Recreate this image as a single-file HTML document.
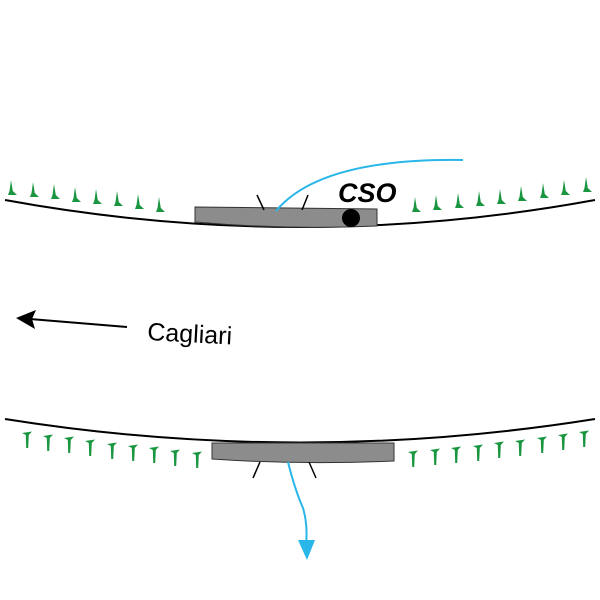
<!DOCTYPE html>
<html><head><meta charset="utf-8"><style>html,body{margin:0;padding:0;background:#fff}svg{display:block}</style></head>
<body>
<svg width="600" height="600" viewBox="0 0 600 600" xmlns="http://www.w3.org/2000/svg">
<defs>
<g id="sp"><path d="M0,0 L1.8,11 L6,15 L-3,15 L-1.5,11 Z" fill="#1a9641"/></g>
<g id="tt"><path d="M-5,0 L5,-1.5 L1.8,2 L1.2,15 L-0.8,15 L-1.2,2 Z" fill="#1a9641"/></g>
</defs>
<!-- top -->
<path d="M5,200 Q300,254 595,200" fill="none" stroke="#000" stroke-width="2"/>
<path d="M195,207 L377,209 L377,226 Q286,230 195,222 Z" fill="#8c8c8c" stroke="#333" stroke-width="1"/>
<line x1="257" y1="195" x2="264" y2="210" stroke="#000" stroke-width="1.5"/>
<line x1="308" y1="195" x2="302" y2="210" stroke="#000" stroke-width="1.5"/>
<path d="M276,211 Q320,158 463,160" fill="none" stroke="#29b6e8" stroke-width="2"/>
<circle cx="351" cy="218" r="9" fill="#000"/>
<text x="338" y="202" font-family="Liberation Sans, sans-serif" font-size="27" font-weight="bold" font-style="italic">CSO</text>
<use href="#sp" x="11" y="180"/><use href="#sp" x="33" y="182"/><use href="#sp" x="54" y="184"/><use href="#sp" x="75" y="187"/><use href="#sp" x="96" y="189"/><use href="#sp" x="117" y="191"/><use href="#sp" x="138" y="194"/><use href="#sp" x="159" y="197"/>
<use href="#sp" x="415" y="197"/><use href="#sp" x="436" y="195"/><use href="#sp" x="458" y="193"/><use href="#sp" x="479" y="191"/><use href="#sp" x="500" y="189"/><use href="#sp" x="521" y="186"/><use href="#sp" x="543" y="183"/><use href="#sp" x="564" y="180"/><use href="#sp" x="586" y="177"/>
<!-- arrow -->
<line x1="127" y1="327" x2="30" y2="319" stroke="#000" stroke-width="2"/>
<path d="M16,318 L36,310 L32,319 L35,329 Z" fill="#000"/>
<text x="147" y="340" font-family="Liberation Sans, sans-serif" font-size="25" transform="rotate(3 147 340)">Cagliari</text>
<!-- bottom -->
<path d="M5,419 Q300,466 595,419" fill="none" stroke="#000" stroke-width="2"/>
<path d="M212,443 L394,443 L394,461 Q300,465 212,459 Z" fill="#8c8c8c" stroke="#333" stroke-width="1"/>
<line x1="253" y1="478" x2="260" y2="462" stroke="#000" stroke-width="1.5"/>
<line x1="316" y1="478" x2="309" y2="462" stroke="#000" stroke-width="1.5"/>
<path d="M288,462 Q295,490 303,508 Q308,525 306,545" fill="none" stroke="#29b6e8" stroke-width="2"/>
<path d="M298,540 L315,540 L307,560 Z" fill="#29b6e8"/>
<use href="#tt" x="27" y="433"/><use href="#tt" x="48" y="436"/><use href="#tt" x="69" y="438"/><use href="#tt" x="90" y="441"/><use href="#tt" x="112" y="444"/><use href="#tt" x="133" y="446"/><use href="#tt" x="154" y="448"/><use href="#tt" x="175" y="451"/><use href="#tt" x="197" y="453"/>
<use href="#tt" x="413" y="452"/><use href="#tt" x="435" y="450"/><use href="#tt" x="456" y="448"/><use href="#tt" x="478" y="446"/><use href="#tt" x="499" y="443"/><use href="#tt" x="520" y="441"/><use href="#tt" x="542" y="438"/><use href="#tt" x="563" y="435"/><use href="#tt" x="584" y="432"/>
</svg>
</body></html>
